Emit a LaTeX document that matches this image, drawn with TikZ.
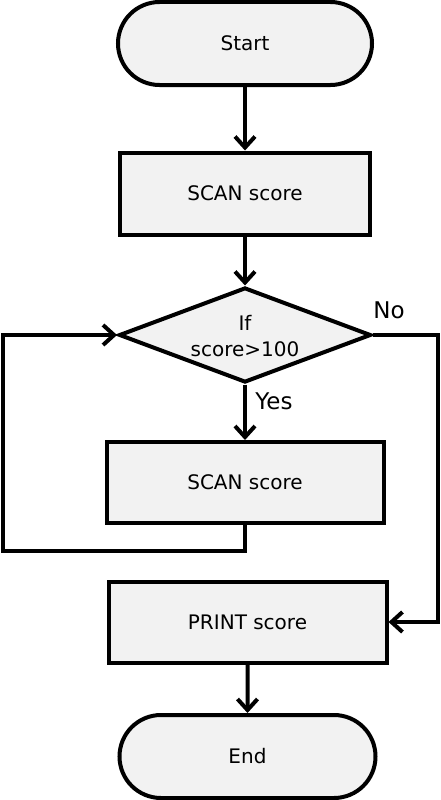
\documentclass[tikz,border=0pt]{standalone}
\usepackage{fontspec}
\setmainfont{DejaVu Sans}
\usetikzlibrary{arrows.meta,shapes.geometric,shapes.misc}
\definecolor{boxfill}{HTML}{F2F2F2}
\tikzset{
  every node/.style={font=\fontsize{20}{26}\selectfont},
  base/.style={draw=black, line width=4pt, fill=boxfill, inner sep=0pt},
  term/.style={base, rounded rectangle, minimum width=254pt, minimum height=83pt},
  proc/.style={base, rectangle, minimum height=82pt},
  decide/.style={base, diamond, minimum width=252pt, minimum height=95pt, aspect=2.65},
  conn/.style={line width=4pt, -{Straight Barb[length=11pt,width=20pt,line width=4pt]}},
  lbl/.style={font=\fontsize{23}{26}\selectfont}
}
\begin{document}
\begin{tikzpicture}[x=1pt,y=-1pt]
\useasboundingbox (0,0) rectangle (441,800);
\node[term] (start) at (245,43.5) {Start};
\node[proc, minimum width=250pt] (scan1) at (245,193.5) {SCAN score};
\node[decide] (dec) at (245,335) {};
\node (ift) at (245,323) {If};
\node (cond) at (245,349) {score>100};
\node[proc, minimum width=277pt, minimum height=81pt] (scan2) at (245,482.5) {SCAN score};
\node[proc, minimum width=278pt, minimum height=81pt] (print) at (247.5,622) {PRINT score};
\node[term, minimum width=256pt, minimum height=83pt] (end) at (247.5,756.5) {End};
\coordinate (l1) at (245,551);
\coordinate (l2) at (3,551);
\coordinate (l3) at (3,335);
\coordinate (r1) at (438,335);
\coordinate (r2) at (438,622);
\draw[conn] (start) -- (scan1);
\draw[conn] (scan1) -- (dec);
\draw[conn] (dec) -- (scan2);
\draw[conn] (scan2.south) -- (l1) -- (l2) -- (l3) -- (dec.west);
\draw[conn] (dec.east) -- (r1) -- (r2) -- (print.east);
\draw[conn] (print) -- (end);
\node[lbl] (yes) at (274,401) {Yes};
\node[lbl] (no) at (389,310) {No};
\end{tikzpicture}
\end{document}
